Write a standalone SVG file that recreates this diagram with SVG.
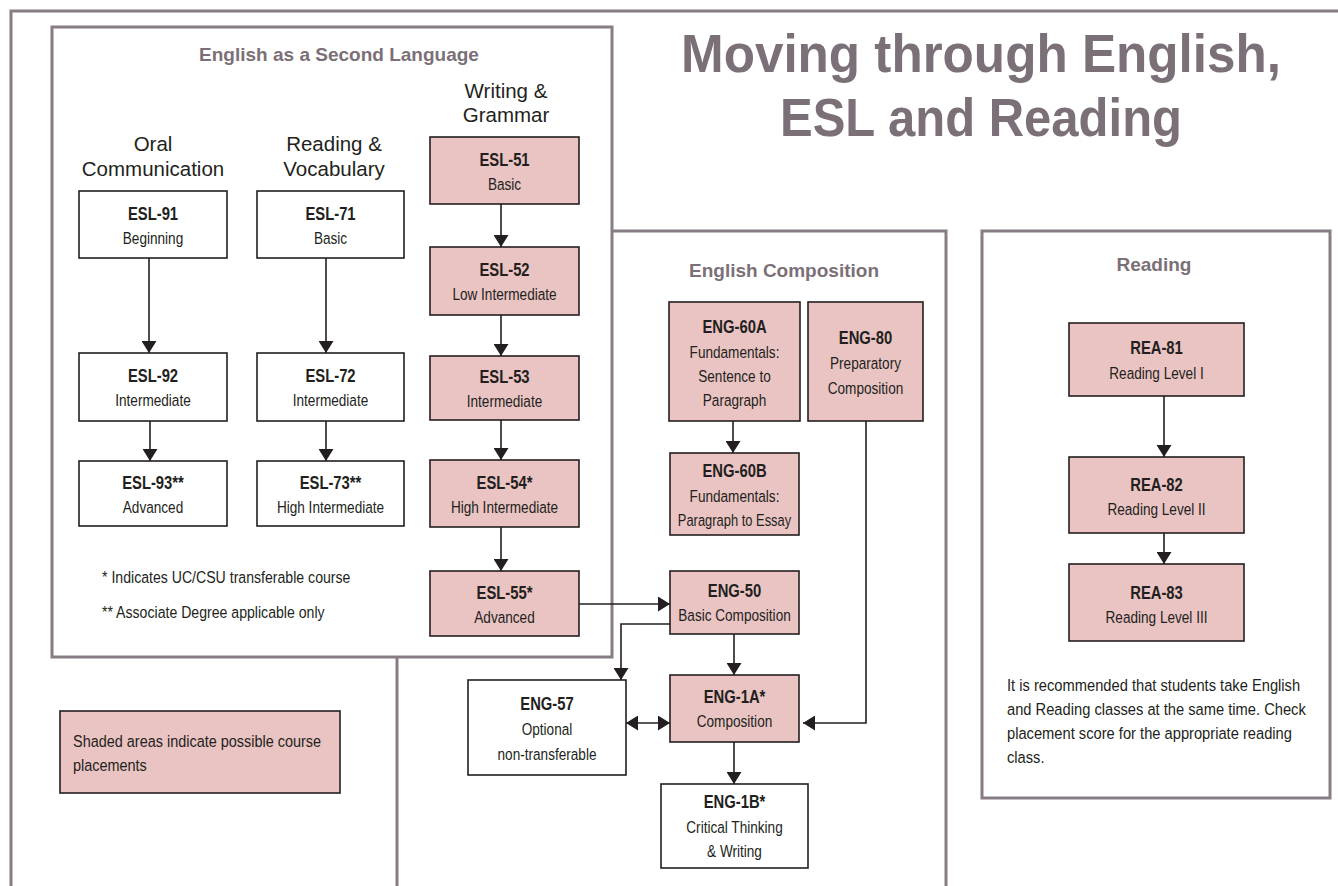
<svg xmlns="http://www.w3.org/2000/svg" width="1338" height="886" viewBox="0 0 1338 886">
<style>
.frame{fill:#fff;stroke:#877c84;stroke-width:3}
.frameline{fill:none;stroke:#877c84;stroke-width:3}
.node{stroke:#231f20;stroke-width:1.6}
.w{fill:#fff}
.p{fill:#eac4c3}
.code{font-family:"Liberation Sans",Arial,sans-serif;font-weight:bold;font-size:18.5px;text-anchor:middle;fill:#231f20}
.sub{font-family:"Liberation Sans",Arial,sans-serif;font-size:17px;text-anchor:middle;fill:#231f20}
.note{font-family:"Liberation Sans",Arial,sans-serif;font-size:17px;fill:#231f20}
.hdr{font-family:"Liberation Sans",Arial,sans-serif;font-size:20.5px;text-anchor:middle;fill:#231f20}
.sec{font-family:"Liberation Sans",Arial,sans-serif;font-weight:bold;font-size:19px;text-anchor:middle;fill:#7b7077}
.title{font-family:"Liberation Sans",Arial,sans-serif;font-weight:bold;font-size:53px;text-anchor:middle;fill:#7b7077}
.conn{fill:none;stroke:#231f20;stroke-width:1.6}
</style>
<defs>
<marker id="ah" viewBox="0 0 12 15" refX="12" refY="7.5" markerWidth="12" markerHeight="15" markerUnits="userSpaceOnUse" orient="auto-start-reverse">
<path d="M0,0 L12,7.5 L0,15 z" fill="#231f20"/>
</marker>
</defs>
<rect width="1338" height="886" fill="#fff"/>
<g id="frames">
<path class="frameline" d="M11,890 V11 H1340"/>
<rect id="comp-box" class="frame" x="397" y="231" width="549" height="700"/>
<rect id="reading-box" class="frame" x="982" y="231" width="348" height="567"/>
<rect id="esl-box" class="frame" x="52" y="27" width="560" height="630"/>
</g>
<g id="title">
<text class="title" x="981" y="72" textLength="600" lengthAdjust="spacingAndGlyphs">Moving through English,</text>
<text class="title" x="981" y="136" textLength="402" lengthAdjust="spacingAndGlyphs">ESL and Reading</text>
</g>
<g id="section-labels">
<text class="sec" x="339" y="61">English as a Second Language</text>
<text class="sec" x="784" y="277" font-size="20">English Composition</text>
<text class="sec" x="1154" y="271">Reading</text>
<text class="hdr" x="153" y="151">Oral</text>
<text class="hdr" x="153" y="176">Communication</text>
<text class="hdr" x="334" y="151">Reading &amp;</text>
<text class="hdr" x="334" y="176">Vocabulary</text>
<text class="hdr" x="506" y="98">Writing &amp;</text>
<text class="hdr" x="506" y="122">Grammar</text>
</g>
<g id="connectors">
<line class="conn" x1="149" y1="258" x2="149" y2="353" marker-end="url(#ah)"/>
<line class="conn" x1="150" y1="421" x2="150" y2="461" marker-end="url(#ah)"/>
<line class="conn" x1="326" y1="258" x2="326" y2="353" marker-end="url(#ah)"/>
<line class="conn" x1="326" y1="421" x2="326" y2="461" marker-end="url(#ah)"/>
<line class="conn" x1="501" y1="204" x2="501" y2="247" marker-end="url(#ah)"/>
<line class="conn" x1="501" y1="315" x2="501" y2="356" marker-end="url(#ah)"/>
<line class="conn" x1="501" y1="420" x2="501" y2="460" marker-end="url(#ah)"/>
<line class="conn" x1="501" y1="527" x2="501" y2="571" marker-end="url(#ah)"/>
<line class="conn" x1="579" y1="604" x2="670" y2="604" marker-end="url(#ah)"/>
<path class="conn" d="M670,624 H621 V680" marker-end="url(#ah)"/>
<line class="conn" x1="733" y1="421" x2="733" y2="453" marker-end="url(#ah)"/>
<line class="conn" x1="734" y1="634" x2="734" y2="675" marker-end="url(#ah)"/>
<line class="conn" x1="626" y1="723" x2="670" y2="723" marker-start="url(#ah)" marker-end="url(#ah)"/>
<path class="conn" d="M866,421 V723 H803" marker-end="url(#ah)"/>
<line class="conn" x1="734" y1="742" x2="734" y2="784" marker-end="url(#ah)"/>
<line class="conn" x1="1164" y1="396" x2="1164" y2="457" marker-end="url(#ah)"/>
<line class="conn" x1="1164" y1="533" x2="1164" y2="564" marker-end="url(#ah)"/>
</g>
<g id="esl-91"><rect class="node w" x="79" y="191" width="148" height="67"/><text class="code" transform="matrix(.8 0 0 1 153 220)">ESL-91</text><text class="sub" transform="matrix(.8 0 0 1 153 244)">Beginning</text></g>
<g id="esl-92"><rect class="node w" x="79" y="353" width="148" height="68"/><text class="code" transform="matrix(.8 0 0 1 153 382)">ESL-92</text><text class="sub" transform="matrix(.8 0 0 1 153 406)">Intermediate</text></g>
<g id="esl-93"><rect class="node w" x="79" y="461" width="148" height="65"/><text class="code" transform="matrix(.8 0 0 1 153 489)">ESL-93**</text><text class="sub" transform="matrix(.8 0 0 1 153 513)">Advanced</text></g>
<g id="esl-71"><rect class="node w" x="257" y="191" width="147" height="67"/><text class="code" transform="matrix(.8 0 0 1 330.5 220)">ESL-71</text><text class="sub" transform="matrix(.8 0 0 1 330.5 244)">Basic</text></g>
<g id="esl-72"><rect class="node w" x="257" y="353" width="147" height="68"/><text class="code" transform="matrix(.8 0 0 1 330.5 382)">ESL-72</text><text class="sub" transform="matrix(.8 0 0 1 330.5 406)">Intermediate</text></g>
<g id="esl-73"><rect class="node w" x="257" y="461" width="147" height="65"/><text class="code" transform="matrix(.8 0 0 1 330.5 489)">ESL-73**</text><text class="sub" transform="matrix(.8 0 0 1 330.5 513)">High Intermediate</text></g>
<g id="esl-51"><rect class="node p" x="430" y="137" width="149" height="67"/><text class="code" transform="matrix(.8 0 0 1 504.5 166)">ESL-51</text><text class="sub" transform="matrix(.8 0 0 1 504.5 190)">Basic</text></g>
<g id="esl-52"><rect class="node p" x="430" y="247" width="149" height="68"/><text class="code" transform="matrix(.8 0 0 1 504.5 276)">ESL-52</text><text class="sub" transform="matrix(.8 0 0 1 504.5 300)">Low Intermediate</text></g>
<g id="esl-53"><rect class="node p" x="430" y="356" width="149" height="64"/><text class="code" transform="matrix(.8 0 0 1 504.5 383)">ESL-53</text><text class="sub" transform="matrix(.8 0 0 1 504.5 407)">Intermediate</text></g>
<g id="esl-54"><rect class="node p" x="430" y="460" width="149" height="67"/><text class="code" transform="matrix(.8 0 0 1 504.5 489)">ESL-54*</text><text class="sub" transform="matrix(.8 0 0 1 504.5 513)">High Intermediate</text></g>
<g id="esl-55"><rect class="node p" x="430" y="571" width="149" height="65"/><text class="code" transform="matrix(.8 0 0 1 504.5 599)">ESL-55*</text><text class="sub" transform="matrix(.8 0 0 1 504.5 623)">Advanced</text></g>
<g id="eng-60a"><rect class="node p" x="669" y="302" width="131" height="119"/><text class="code" transform="matrix(.8 0 0 1 734.5 333)">ENG-60A</text><text class="sub" transform="matrix(.8 0 0 1 734.5 358)">Fundamentals:</text><text class="sub" transform="matrix(.8 0 0 1 734.5 382)">Sentence to</text><text class="sub" transform="matrix(.8 0 0 1 734.5 406)">Paragraph</text></g>
<g id="eng-80"><rect class="node p" x="808" y="302" width="115" height="119"/><text class="code" transform="matrix(.8 0 0 1 865.5 344)">ENG-80</text><text class="sub" transform="matrix(.8 0 0 1 865.5 369)">Preparatory</text><text class="sub" transform="matrix(.8 0 0 1 865.5 394)">Composition</text></g>
<g id="eng-60b"><rect class="node p" x="670" y="453" width="129" height="82"/><text class="code" transform="matrix(.8 0 0 1 734.5 477)">ENG-60B</text><text class="sub" transform="matrix(.8 0 0 1 734.5 502)">Fundamentals:</text><text class="sub" transform="matrix(.76 0 0 1 734.5 526)">Paragraph to Essay</text></g>
<g id="eng-50"><rect class="node p" x="670" y="571" width="129" height="63"/><text class="code" transform="matrix(.8 0 0 1 734.5 597)">ENG-50</text><text class="sub" transform="matrix(.8 0 0 1 734.5 621)">Basic Composition</text></g>
<g id="eng-1a"><rect class="node p" x="670" y="675" width="129" height="67"/><text class="code" transform="matrix(.8 0 0 1 734.5 703)">ENG-1A*</text><text class="sub" transform="matrix(.8 0 0 1 734.5 727)">Composition</text></g>
<g id="eng-57"><rect class="node w" x="468" y="680" width="158" height="95"/><text class="code" transform="matrix(.8 0 0 1 547 710)">ENG-57</text><text class="sub" transform="matrix(.8 0 0 1 547 735)">Optional</text><text class="sub" transform="matrix(.8 0 0 1 547 760)">non-transferable</text></g>
<g id="eng-1b"><rect class="node w" x="661" y="784" width="147" height="84"/><text class="code" transform="matrix(.8 0 0 1 734.5 808)">ENG-1B*</text><text class="sub" transform="matrix(.8 0 0 1 734.5 833)">Critical Thinking</text><text class="sub" transform="matrix(.8 0 0 1 734.5 857)">&amp; Writing</text></g>
<g id="rea-81"><rect class="node p" x="1069" y="323" width="175" height="73"/><text class="code" transform="matrix(.8 0 0 1 1156.5 354)">REA-81</text><text class="sub" transform="matrix(.8 0 0 1 1156.5 379)">Reading Level I</text></g>
<g id="rea-82"><rect class="node p" x="1069" y="457" width="175" height="76"/><text class="code" transform="matrix(.8 0 0 1 1156.5 491)">REA-82</text><text class="sub" transform="matrix(.8 0 0 1 1156.5 515)">Reading Level II</text></g>
<g id="rea-83"><rect class="node p" x="1069" y="564" width="175" height="77"/><text class="code" transform="matrix(.8 0 0 1 1156.5 599)">REA-83</text><text class="sub" transform="matrix(.8 0 0 1 1156.5 623)">Reading Level III</text></g>
<g id="footnotes">
<text class="note" transform="matrix(.83 0 0 1 102 583)">* Indicates UC/CSU transferable course</text>
<text class="note" transform="matrix(.83 0 0 1 102 618)">** Associate Degree applicable only</text>
</g>
<g id="legend"><rect class="node p" x="60" y="711" width="280" height="82"/><text class="note" font-size="18" transform="matrix(.85 0 0 1 73 747)">Shaded areas indicate possible course</text><text class="note" font-size="18" transform="matrix(.85 0 0 1 73 771)">placements</text></g>
<g id="reading-note">
<text class="note" transform="matrix(.865 0 0 1 1007 691)">It is recommended that students take English</text>
<text class="note" transform="matrix(.865 0 0 1 1007 715)">and Reading classes at the same time. Check</text>
<text class="note" transform="matrix(.865 0 0 1 1007 739)">placement score for the appropriate reading</text>
<text class="note" transform="matrix(.865 0 0 1 1007 763)">class.</text>
</g>
</svg>
